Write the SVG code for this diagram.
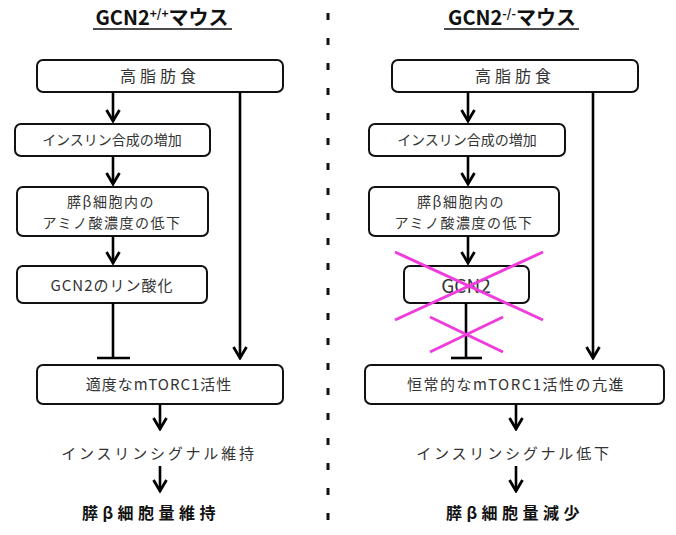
<svg xmlns="http://www.w3.org/2000/svg" width="676" height="535" viewBox="0 0 676 535">
<defs>
<marker id="arr" viewBox="0 0 14 16" refX="12.5" refY="8" markerWidth="14" markerHeight="16" markerUnits="userSpaceOnUse" orient="auto">
<path d="M1.5,1.5 L12.5,8 L1.5,14.5" fill="none" stroke="#000" stroke-width="2.8"/>
</marker>
<style>
.box{fill:#fff;stroke:#111;stroke-width:2}
.t{font-family:"Noto Sans CJK JP","Noto Sans",sans-serif;fill:#333;text-anchor:middle}
.b{font-family:"Noto Sans CJK JP","Noto Sans",sans-serif;fill:#111;text-anchor:middle;font-weight:bold}
.ln{stroke:#000;stroke-width:2.6;fill:none}
.x{stroke:#f03cdc;stroke-width:3;fill:none}
</style>
</defs>
<g id="titleL"><text class="b" x="162" y="25" font-size="20">GCN2<tspan font-size="12" dy="-7">+/+</tspan><tspan dy="7">マウス</tspan></text><line x1="93" y1="29" x2="232" y2="29" stroke="#111" stroke-width="1.5"/></g>
<g id="titleR"><text class="b" x="512" y="25" font-size="20">GCN2<tspan font-size="12" dy="-7">-/-</tspan><tspan dy="7">マウス</tspan></text><line x1="444" y1="29" x2="579" y2="29" stroke="#111" stroke-width="1.5"/></g>
<line id="divider" x1="328" y1="13" x2="328" y2="535" stroke="#111" stroke-width="3" stroke-dasharray="7 18"/>
<g id="L1"><rect class="box" x="37" y="60" width="246" height="32" rx="6"/><text class="t" x="160" y="82" font-size="16" letter-spacing="4">高脂肪食</text></g>
<g id="L2"><rect class="box" x="15" y="124" width="195" height="32" rx="6"/><text class="t" x="112" y="145" font-size="14">インスリン合成の増加</text></g>
<g id="L3"><rect class="box" x="17" y="187" width="191" height="49" rx="6"/><text class="t" x="111" y="207" font-size="14" letter-spacing="1.5">膵β細胞内の</text><text class="t" x="112" y="228" font-size="14" letter-spacing="1.5">アミノ酸濃度の低下</text></g>
<g id="L4"><rect class="box" x="17" y="266" width="190" height="37" rx="6"/><text class="t" x="112" y="291" font-size="15" letter-spacing="1">GCN2のリン酸化</text></g>
<g id="L5"><rect class="box" x="37" y="365" width="246" height="39" rx="6"/><text class="t" x="159" y="390" font-size="15" letter-spacing="1">適度なmTORC1活性</text></g>
<g id="L6"><text class="t" x="159" y="459" font-size="15" letter-spacing="2.8" fill="#222">インスリンシグナル維持</text></g>
<g id="L7"><text class="b" x="151" y="519" font-size="16" letter-spacing="4.5">膵β細胞量維持</text></g>
<g id="R1"><rect class="box" x="392" y="60" width="246" height="32" rx="6"/><text class="t" x="515" y="82" font-size="16" letter-spacing="4">高脂肪食</text></g>
<g id="R2"><rect class="box" x="369" y="124" width="196" height="32" rx="6"/><text class="t" x="467" y="145" font-size="14">インスリン合成の増加</text></g>
<g id="R3"><rect class="box" x="369" y="187" width="190" height="49" rx="6"/><text class="t" x="461" y="207" font-size="14" letter-spacing="1.5">膵β細胞内の</text><text class="t" x="464" y="228" font-size="14" letter-spacing="1.5">アミノ酸濃度の低下</text></g>
<g id="R4"><rect class="box" x="404" y="266" width="125" height="37" rx="6"/><text class="t" x="466" y="293" font-size="19" fill="#222">GCN2</text></g>
<g id="R5"><rect class="box" x="365" y="365" width="299" height="39" rx="6"/><text class="t" x="516" y="390" font-size="15" letter-spacing="1.5">恒常的なmTORC1活性の亢進</text></g>
<g id="R6"><text class="t" x="514" y="459" font-size="15" letter-spacing="2.8" fill="#222">インスリンシグナル低下</text></g>
<g id="R7"><text class="b" x="515" y="519" font-size="16" letter-spacing="4.5">膵β細胞量減少</text></g>
<g id="connectors">
<line class="ln" x1="113" y1="92" x2="113" y2="121" marker-end="url(#arr)"/>
<line class="ln" x1="113" y1="156" x2="113" y2="184" marker-end="url(#arr)"/>
<line class="ln" x1="113" y1="236" x2="113" y2="263" marker-end="url(#arr)"/>
<line class="ln" x1="113" y1="303" x2="113" y2="358"/>
<line class="ln" x1="97" y1="358" x2="130" y2="358"/>
<line class="ln" x1="240" y1="92" x2="240" y2="358" marker-end="url(#arr)"/>
<line class="ln" x1="160" y1="404" x2="160" y2="429" marker-end="url(#arr)"/>
<line class="ln" x1="160" y1="466" x2="160" y2="491" marker-end="url(#arr)"/>
<line class="ln" x1="468" y1="92" x2="468" y2="121" marker-end="url(#arr)"/>
<line class="ln" x1="468" y1="156" x2="468" y2="184" marker-end="url(#arr)"/>
<line class="ln" x1="468" y1="236" x2="468" y2="263" marker-end="url(#arr)"/>
<line class="ln" x1="466" y1="303" x2="466" y2="358"/>
<line class="ln" x1="451" y1="358" x2="482" y2="358"/>
<line class="ln" x1="593" y1="92" x2="593" y2="358" marker-end="url(#arr)"/>
<line class="ln" x1="516" y1="404" x2="516" y2="429" marker-end="url(#arr)"/>
<line class="ln" x1="516" y1="466" x2="516" y2="491" marker-end="url(#arr)"/>
</g>
<g id="crosses">
<line class="x" x1="395" y1="252" x2="543" y2="320"/>
<line class="x" x1="395" y1="320" x2="543" y2="252"/>
<line class="x" x1="430" y1="317" x2="503" y2="352"/>
<line class="x" x1="430" y1="352" x2="503" y2="317"/>
</g>
</svg>
